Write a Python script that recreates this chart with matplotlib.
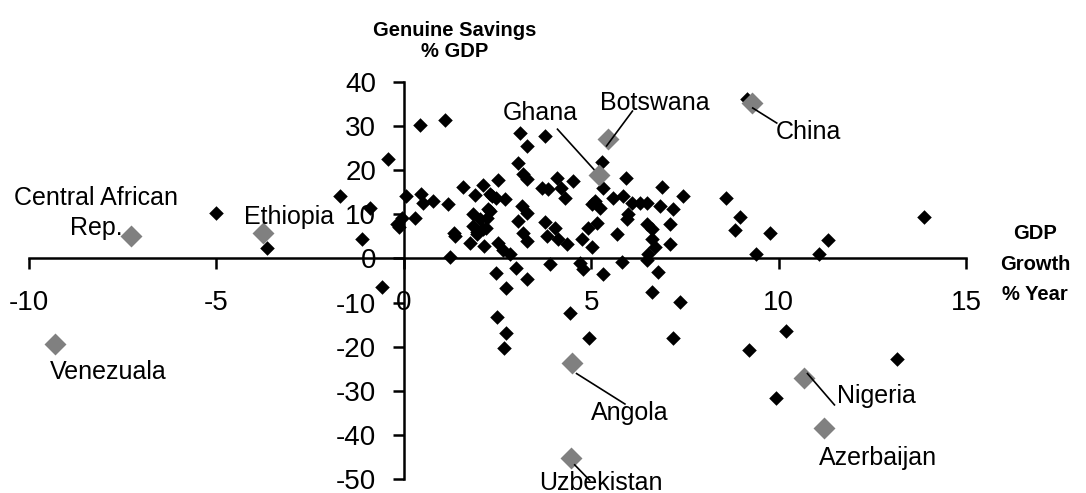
import matplotlib
matplotlib.use("Agg")
import matplotlib.pyplot as plt

plt.rcParams["font.family"] = ["Liberation Sans", "DejaVu Sans"]
plt.rcParams["axes.unicode_minus"] = False

# GDP growth (% / year) and genuine savings (% GDP), unlabelled countries
growth = [
    -5.0, -3.65, -1.7, -0.42, -0.9, -1.12, -0.59, -0.13, -0.06, -0.19,
    0.05, 0.43, 1.09, 0.29, 0.47, 0.51, 0.78, 1.18, 1.23, 1.33, 1.36,
    1.58, 1.89, 2.11, 2.51, 2.35, 2.69, 2.29, 2.47, 1.76, 2.13, 1.85, 2.03,
    2.25, 1.94, 2.2, 1.84, 2.11, 2.29, 2.21, 1.95, 2.51, 2.65, 2.83, 2.47,
    2.72, 3.0, 3.3, 2.5, 2.72, 2.67,
    3.09, 3.28, 3.76, 3.04, 3.17, 3.28, 3.84, 3.15, 3.28, 3.04, 3.17, 3.28,
    3.78, 3.82, 3.9, 4.08, 4.51, 3.68, 4.2, 4.29, 4.03, 4.11, 4.35, 4.43,
    4.69, 4.77,
    4.91, 4.75, 5.01, 5.15, 4.93, 5.31, 5.28, 5.92, 5.31, 5.09, 5.23, 5.01,
    5.57, 5.84, 5.68, 5.97, 5.95, 5.81,
    6.08, 6.29, 6.48, 6.83, 7.17, 6.88, 7.44, 6.48, 6.61, 7.09, 6.61, 7.09,
    6.69, 6.51, 6.48, 6.77, 6.61, 7.36, 7.17,
    8.61, 8.96, 8.83, 9.76, 9.41, 9.15, 11.07, 11.31, 13.87, 10.21, 9.2,
    13.17, 9.92,
]
savings = [
    10.2, 2.3, 14.1, 22.5, 11.4, 4.5, -6.4, 7.1, 9.2, 7.7,
    14.1, 30.2, 31.4, 9.1, 14.5, 12.6, 13.0, 12.3, 0.3, 5.8, 5.0,
    16.1, 14.3, 16.6, 17.7, 14.1, 13.4, 14.5, 13.6, 3.4, 2.9, 10.0, 8.9,
    11.1, 6.1, 6.8, 7.3, 6.6, 10.7, 9.1, 5.5, 3.4, 2.0, 0.9, -3.4,
    -6.8, -2.2, -4.6, -13.2, -16.8, -20.2,
    28.4, 25.5, 27.7, 21.6, 19.1, 18.0, 15.7, 11.8, 10.2, 8.4, 5.7, 3.9,
    8.2, 5.0, -1.2, 18.2, 17.5, 15.9, 15.9, 13.6, 6.8, 4.5, 3.2, -12.3,
    -1.1, -2.5,
    6.8, 4.5, 2.7, 8.0, -18.0, -3.6, 21.8, 18.2, 15.9, 13.0, 11.4, 12.3,
    13.6, 14.1, 5.5, 10.0, 8.9, -0.7,
    12.5, 12.5, 12.5, 11.8, 11.1, 16.1, 14.1, 7.7, 6.6, 7.7, 4.5, 3.2,
    2.7, 0.9, -0.3, -3.0, -7.5, -9.8, -18.0,
    13.6, 9.5, 6.4, 5.7, 1.1, 36.1, 0.9, 4.1, 9.3, -16.4, -20.7,
    -22.7, -31.6,
]

# highlighted countries
names = ["Central African\nRep.", "Ethiopia", "Venezuala", "Ghana", "Botswana",
         "China", "Angola", "Uzbekistan", "Nigeria", "Azerbaijan"]
hl_growth = [-7.28, -3.76, -9.31, 5.2, 5.44, 9.28, 4.5, 4.45, 10.69, 11.2]
hl_savings = [5.0, 5.7, -19.5, 18.9, 27.0, 35.2, -23.6, -45.2, -27.0, -38.4]

# label placement: text position, alignment, optional leader line
label_pos = {
    "Central African\nRep.": ((-8.2, 10.3), "center", None),
    "Ethiopia": ((-3.07, 9.3), "center", None),
    "Venezuala": ((-9.45, -25.7), "left", None),
    "Ghana": ((3.63, 33.0), "center", ((4.1, 29.3), (5.07, 20.2))),
    "Botswana": ((6.69, 35.2), "center", ((6.1, 33.4), (5.41, 25.5))),
    "China": ((10.8, 28.6), "center", ((9.31, 34.1), (9.95, 30.7))),
    "Angola": ((6.03, -35.0), "center", ((4.61, -26.1), (5.9, -33.0))),
    "Uzbekistan": ((5.25, -50.8), "center", ((4.56, -46.8), (4.96, -50.3))),
    "Nigeria": ((11.57, -31.1), "left", ((10.77, -26.1), (11.49, -33.2))),
    "Azerbaijan": ((12.64, -45.2), "center", None),
}

fig = plt.figure(figsize=(10.86, 4.93), dpi=100)
ax = fig.add_axes([0.0267, 0.0284, 0.8628, 0.8053])

ax.scatter(growth, savings, marker="D", s=55, color="black", linewidths=0, zorder=3)
ax.scatter(hl_growth, hl_savings, marker="D", s=125, color="#808080", linewidths=0, zorder=4)

for name in names:
    (tx, ty), ha, leader = label_pos[name]
    ax.text(tx, ty, name, ha=ha, va="center", fontsize=18, linespacing=1.3,
            clip_on=False, zorder=5)
    if leader is not None:
        (x0, y0), (x1, y1) = leader
        ax.plot([x0, x1], [y0, y1], color="black", linewidth=1.2, clip_on=False, zorder=5)

ax.set_xlim(-10, 15)
ax.set_ylim(-50, 40)
ax.set_xticks([-10, -5, 0, 5, 10, 15])
ax.set_yticks([-50, -40, -30, -20, -10, 0, 10, 20, 30, 40])

ax.spines["left"].set_position(("data", 0))
ax.spines["bottom"].set_position(("data", 0))
ax.spines["right"].set_visible(False)
ax.spines["top"].set_visible(False)
for sp in ["left", "bottom"]:
    ax.spines[sp].set_linewidth(1.8)
    ax.spines[sp].set_zorder(2)

ax.tick_params(axis="x", direction="out", length=8, width=1.8, labelsize=20, pad=14.5)
ax.tick_params(axis="y", direction="out", length=8, width=1.8, labelsize=20, pad=12)
ax.patch.set_visible(False)

fig.text(0.419, 0.917, "Genuine Savings\n% GDP", ha="center", va="center",
         fontsize=14.5, fontweight="bold", linespacing=1.15)
fig.text(0.953, 0.4645, "GDP\nGrowth\n% Year", ha="center", va="center",
         fontsize=14.5, fontweight="bold", linespacing=1.75)

fig.savefig("out.png", dpi=100)
